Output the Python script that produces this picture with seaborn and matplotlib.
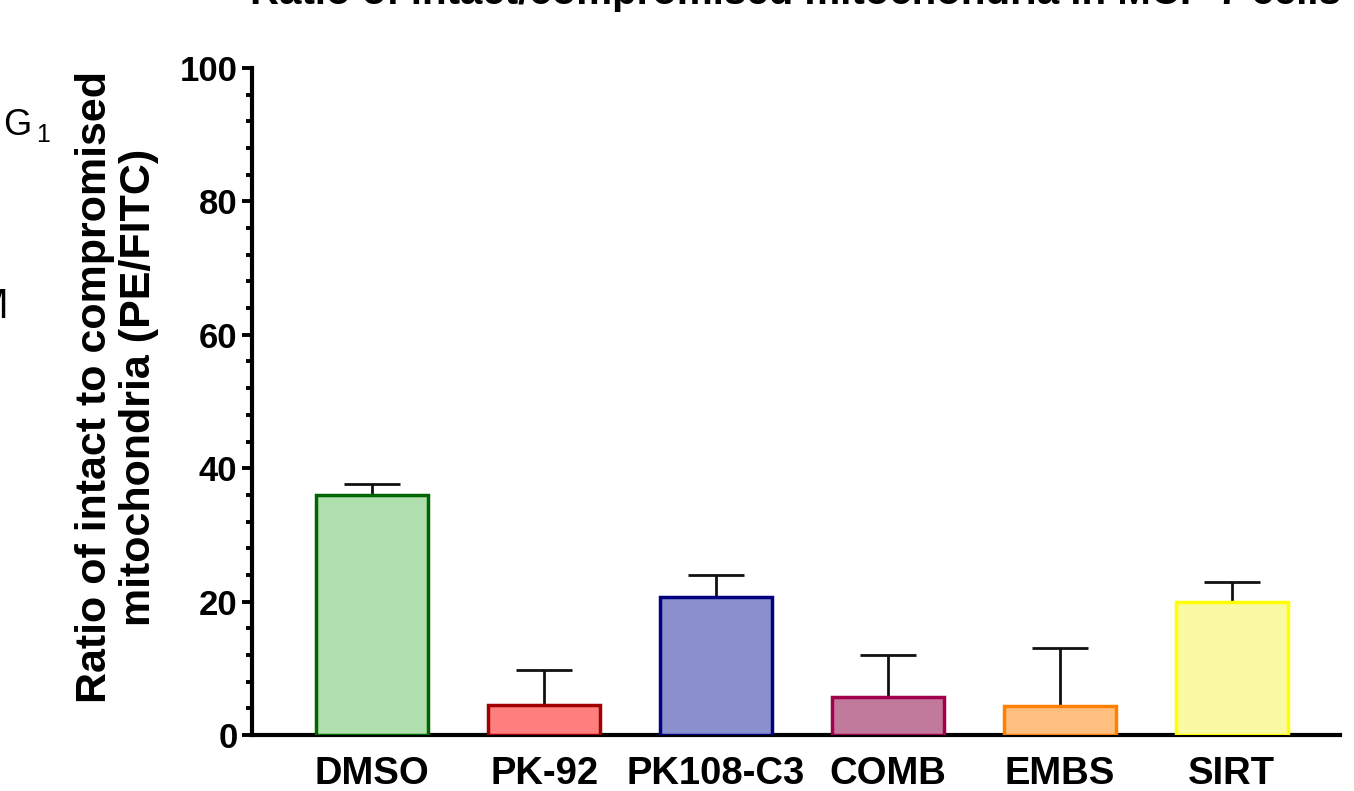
import matplotlib
matplotlib.use("Agg")
import matplotlib.pyplot as plt
import seaborn as sns
import pandas as pd
import numpy as np
from matplotlib.ticker import MultipleLocator

categories = ["DMSO", "PK-92", "PK108-C3", "COMB", "EMBS", "SIRT"]
values = [36.0, 4.5, 20.7, 5.7, 4.4, 20.0]
errors = [1.6, 5.3, 3.3, 6.3, 8.6, 2.9]
fill_colors = ["#AEDFAC", "#FF7F7F", "#8A90CE", "#C27A9C", "#FFBF80", "#FAFAA5"]
edge_colors = ["#006400", "#A00000", "#000080", "#A0004C", "#FF8000", "#FFFF00"]
y_ticks = [0, 20, 40, 60, 80, 100]

sns.set_theme(style="ticks")
plt.rcParams['font.family'] = ['Liberation Sans', 'DejaVu Sans']
plt.rcParams['font.weight'] = 'bold'
for k in ['text.color', 'axes.labelcolor', 'xtick.color', 'ytick.color', 'axes.edgecolor']:
    plt.rcParams[k] = 'black'

fig = plt.figure(figsize=(13.54, 7.91), dpi=100)
ax = fig.add_axes([252/1354, 56/791, (1340-252)/1354, (735-68)/791])

df = pd.DataFrame({"cat": categories, "val": values})
sns.barplot(data=df, x="cat", y="val", hue="cat", palette=fill_colors,
            order=categories, hue_order=categories, width=0.65,
            legend=False, ax=ax, errorbar=None, saturation=1)
for patch, ec in zip(ax.patches, edge_colors):
    patch.set_edgecolor(ec)
    patch.set_linewidth(2.5)
    patch.set_zorder(3)

ax.errorbar(np.arange(len(categories)), values,
            yerr=[np.zeros(len(errors)), errors], fmt="none",
            ecolor="#111111", elinewidth=2.0, capsize=20, capthick=2.0, zorder=2)

ax.set_xlim(-0.70, 5.63)
ax.set_ylim(0, 100)
ax.set_yticks(y_ticks)
ax.yaxis.set_minor_locator(MultipleLocator(4))
ax.tick_params(axis="y", which="major", length=7.5, width=2.8, labelsize=25, pad=3, color="black")
ax.tick_params(axis="y", which="minor", length=4.5, width=2.8, color="black")
ax.tick_params(axis="x", length=0, labelsize=27.5, pad=15)
for lab in ax.get_xticklabels() + ax.get_yticklabels():
    lab.set_fontweight("bold")
ax.set_xlabel("")
ax.set_ylabel("Ratio of intact to compromised\nmitochondria (PE/FITC)", fontsize=31,
              fontweight="bold", linespacing=1.15, ha="center", va="center")
ax.yaxis.set_label_coords(-0.124, 0.521)
sns.despine(ax=ax)
for s in ["left", "bottom"]:
    ax.spines[s].set_linewidth(3.0)
    ax.spines[s].set_color("black")

fig.text(250/1354, 1 - 4/791, "Ratio of intact/compromised mitochondria in MCF-7 cells",
         fontsize=29, fontweight="bold", ha="left", va="baseline")
fig.text(3/1354, 1 - 135/791, "G", fontsize=26, fontweight="normal", ha="left", va="baseline")
fig.text(36/1354, 1 - 142/791, "1", fontsize=18, fontweight="normal", ha="left", va="baseline")
fig.text(8/1354, 1 - 318/791, "M", fontsize=30, fontweight="normal", ha="right", va="baseline")

fig.savefig("out.png", dpi=100)
